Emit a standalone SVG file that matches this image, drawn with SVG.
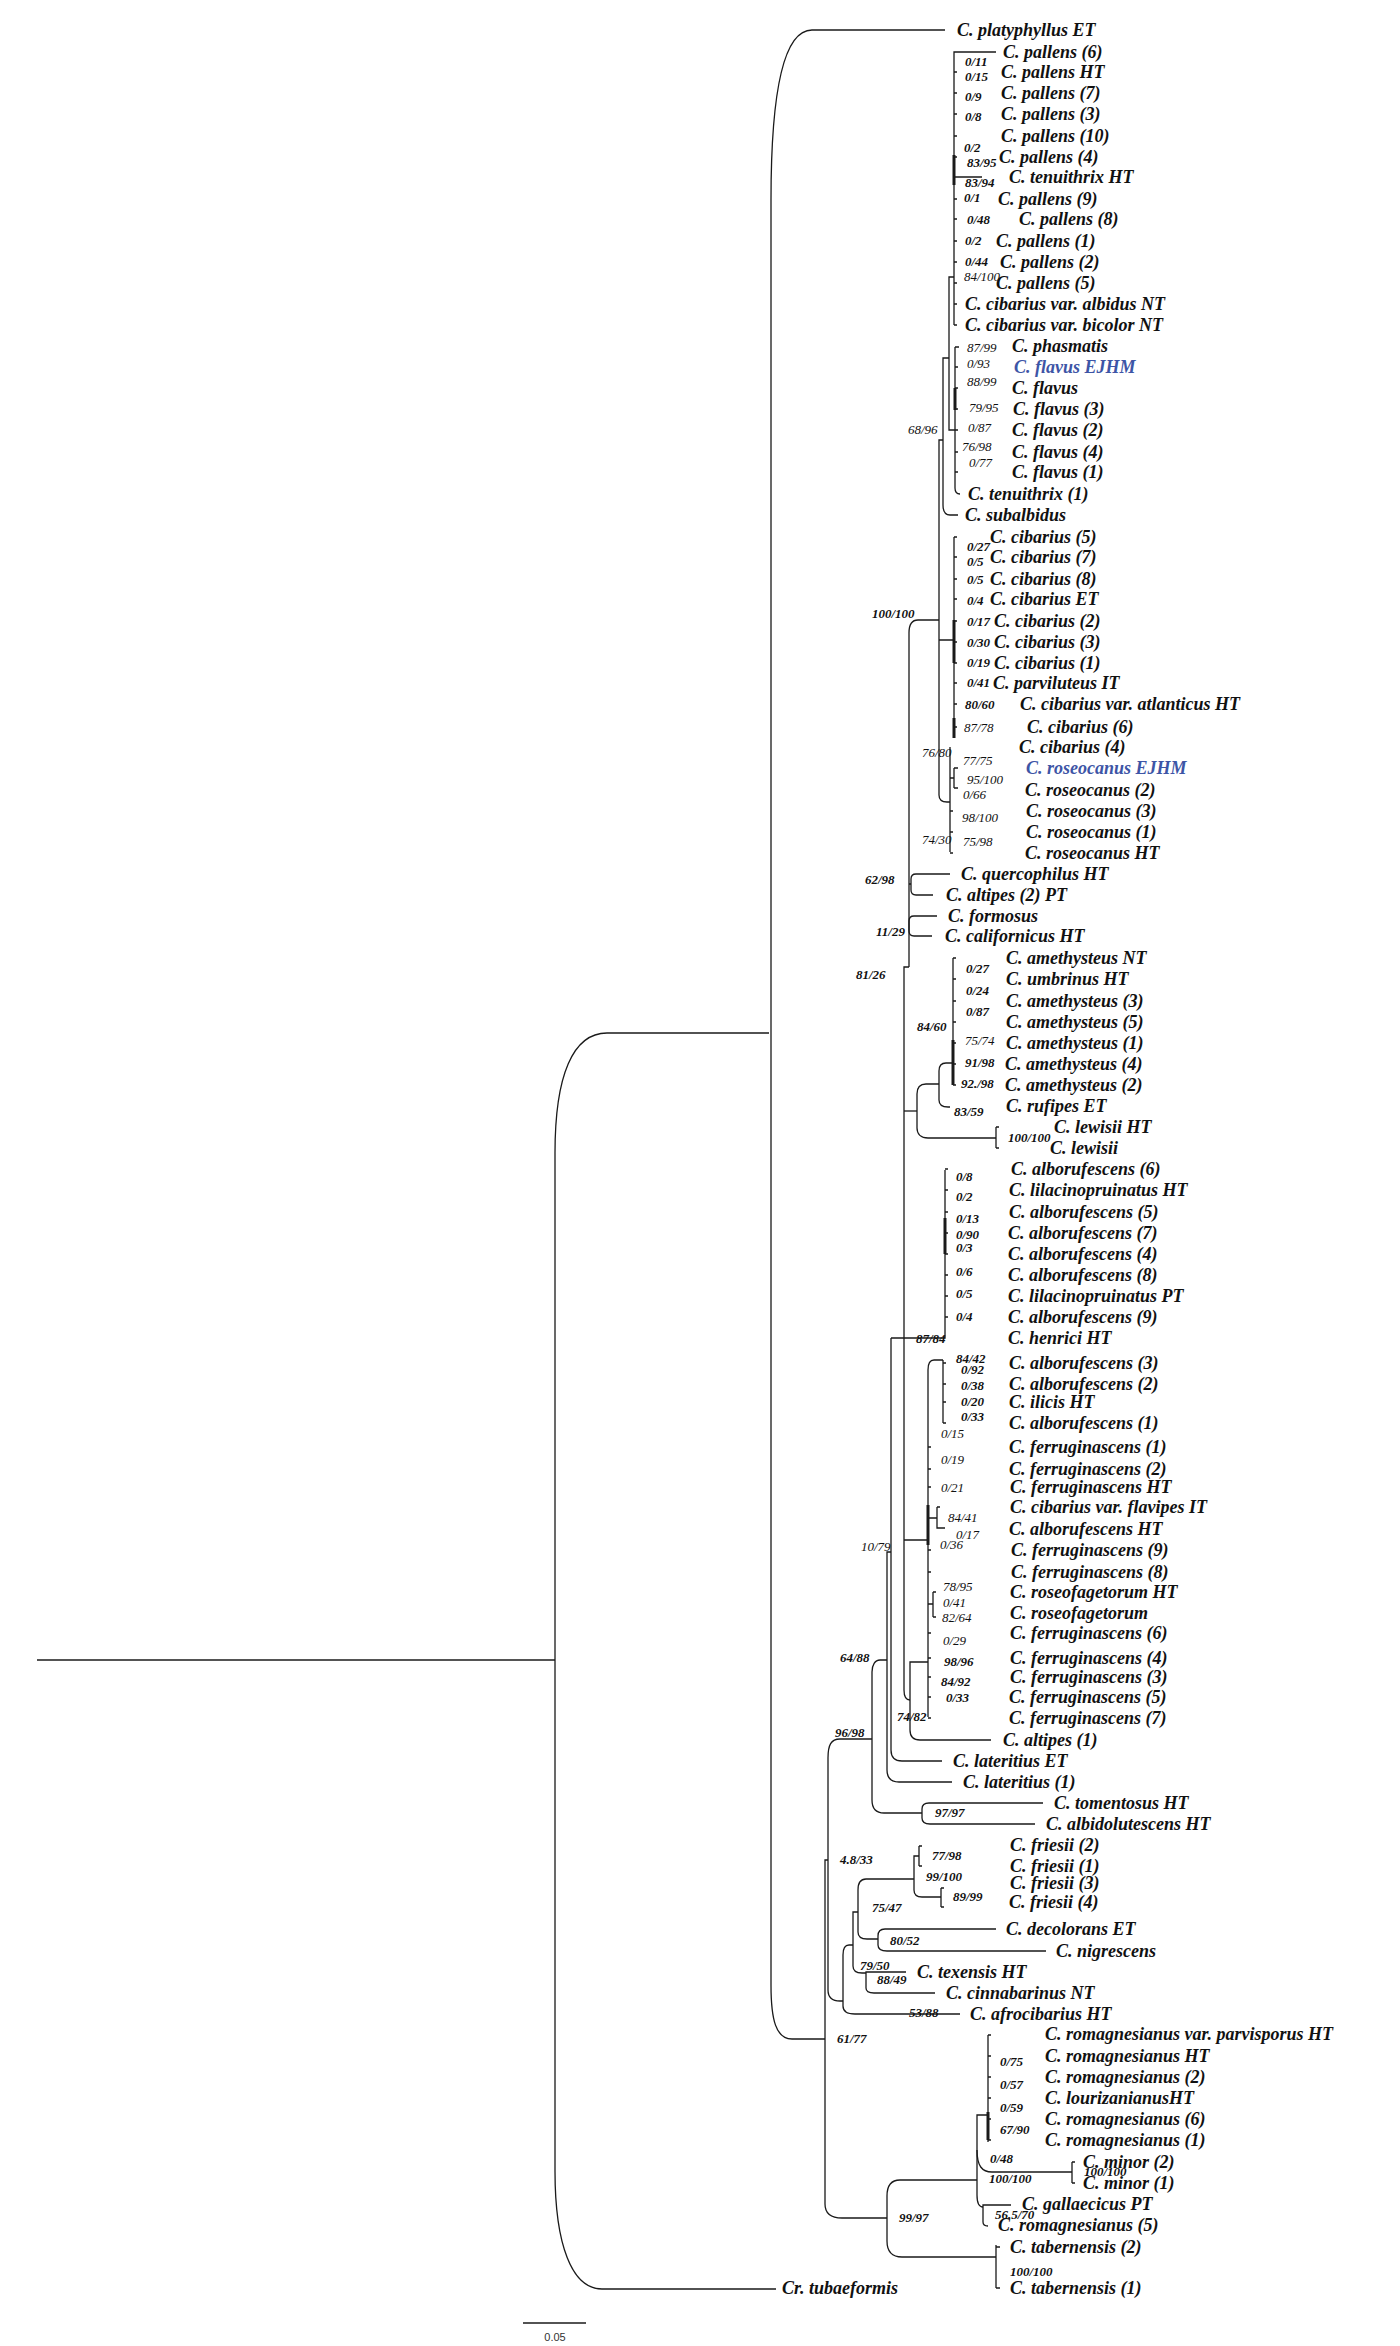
<svg xmlns="http://www.w3.org/2000/svg" width="1400" height="2346" viewBox="0 0 1400 2346">
<style>
.lf{font-family:"Liberation Serif","Times New Roman",serif;font-style:italic;font-weight:bold;font-size:18px;fill:#111}
.bl{fill:#3d55a6}
.s{font-family:"Liberation Serif","Times New Roman",serif;font-style:italic;font-weight:bold;font-size:13px;fill:#111}
.r{font-family:"Liberation Serif","Times New Roman",serif;font-style:italic;font-weight:normal;font-size:13px;fill:#111}
.ln{fill:none;stroke:#1a1a1a;stroke-width:1.3}
.tk{fill:none;stroke:#1a1a1a;stroke-width:1.6}
.th{fill:none;stroke:#1a1a1a;stroke-width:3}
.sc{font-family:"Liberation Sans",Arial,sans-serif;font-size:11px;fill:#333}
</style>
<rect width="1400" height="2346" fill="#fff"/>
<g id="connectors">
<path class="ln" d="M37 1660H555"/>
<path class="ln" d="M769 1033H607C573 1033 555 1075 555 1153V2171C555 2245 572 2289 602 2289H776"/>
<path class="ln" d="M945 30H812C786 30 771 80 771 200V1985C771 2020 776 2039 792 2039H825"/>
<path class="ln" d="M828 1860H825V2204C825 2213 831 2218 842 2218H887"/>
<path class="ln" d="M872 1739H840C831 1739 828 1745 828 1758V1990C828 1997 832 2001 840 2001H843"/>
<path class="ln" d="M853 1945H849C845 1945 843 1949 843 1955V2006C843 2011 847 2014 855 2014H960"/>
<path class="ln" d="M858 1912H853V1966C853 1971 856 1973 862 1973H866"/>
<path class="ln" d="M914 1879H866C861 1879 858 1883 858 1890V1932C858 1937 861 1939 867 1939H878"/>
<path class="ln" d="M996 1929H885C880 1929 878 1932 878 1936V1945C878 1949 881 1951 887 1951H1046"/>
<path class="ln" d="M906 1972H866V1988C866 1991 869 1993 874 1993H935"/>
<path class="ln" d="M919 1856H914V1890C914 1895 917 1897 922 1897H941"/>
<path class="ln" d="M919 1846V1866M941 1888V1907"/>
<path class="ln" d="M977 2180H900C891 2180 887 2186 887 2196V2241C887 2251 891 2257 902 2257H996"/>
<path class="ln" d="M996 2245V2288"/>
<path class="ln" d="M988 2115H977V2195C977 2203 979 2207 983 2207"/>
<path class="ln" d="M1011 2205H983V2222C983 2225 985 2226 988 2226"/>
<path class="ln" d="M977 2150C977 2166 982 2172 992 2172H1072M1072 2162V2183"/>
<path class="ln" d="M988 2035V2142"/>
<path class="th" d="M988 2112V2140"/>
<path class="ln" d="M887 1660H880C875 1660 872 1665 872 1672V1800C872 1808 876 1813 884 1813H922"/>
<path class="ln" d="M1043 1803H929C924 1803 922 1806 922 1809V1818C922 1822 925 1824 930 1824H1035"/>
<path class="ln" d="M891 1552H887V1770C887 1778 891 1782 899 1782H952"/>
<path class="ln" d="M891 1338V1750C891 1757 895 1761 902 1761H942"/>
<path class="ln" d="M909 967H904V1690C904 1696 906 1700 910 1700"/>
<path class="ln" d="M928 1662H910V1730C910 1736 913 1740 920 1740H991"/>
<path class="ln" d="M943 1360H934C930 1360 928 1364 928 1370V1717M904 1540H928"/>
<path class="th" d="M928 1505V1545"/>
<path class="ln" d="M943 1360V1423"/>
<path class="ln" d="M928 1518H937M937 1507V1528H945"/>
<path class="ln" d="M928 1604H933M933 1592V1617"/>
<path class="ln" d="M945 1170V1338H891"/>
<path class="th" d="M945 1218V1254"/>
<path class="ln" d="M904 1111H917"/>
<path class="ln" d="M939 1084H926C920 1084 917 1088 917 1094V1128C917 1134 921 1138 928 1138H996"/>
<path class="ln" d="M953 1063H946C941 1063 939 1066 939 1071V1100C939 1105 942 1107 948 1107H950"/>
<path class="ln" d="M953 958V1085"/>
<path class="th" d="M953 1040V1085"/>
<path class="ln" d="M996 1127V1148"/>
<path class="ln" d="M939 620H918C912 620 909 625 909 633V967"/>
<path class="ln" d="M950 874H916C913 874 911 876 911 879V890C911 893 913 895 916 895H933M909 884H911"/>
<path class="ln" d="M937 916H914C911 916 909 918 909 921V931C909 934 911 936 914 936H932"/>
<path class="ln" d="M943 440H939V795C939 800 942 802 947 802H950"/>
<path class="ln" d="M949 358H943V505C943 511 945 515 950 515H958"/>
<path class="ln" d="M954 277H949V430H955"/>
<path class="ln" d="M996 52H954V325M954 177H982"/>
<path class="th" d="M954 155V185"/>
<path class="ln" d="M955 347H959M955 347V488C955 492 957 494 960 494"/>
<path class="th" d="M955 388V410"/>
<path class="ln" d="M954 537V738M939 640H954"/>
<path class="th" d="M954 620V663M954 718V738"/>
<path class="ln" d="M950 747V852M954 768V788M950 778H954"/>
<path class="tk" d="M954 72h3M954 93h3M954 114h3M954 136h3M954 157h3M954 199h3M954 219h3M954 241h3M954 262h3M954 283h3M954 304h3M954 325h3M955 367h3M955 388h3M955 409h3M955 430h3M955 452h3M955 472h3M954 537h3M954 557h3M954 579h3M954 599h3M954 621h3M954 642h3M954 663h3M954 683h3M954 704h3M954 727h3M954 768h4M954 788h4M950 811h3M950 832h3M950 853h3M953 958h3M953 979h3M953 1001h3M953 1022h3M953 1043h3M953 1064h3M953 1085h3M996 1127h3M996 1148h3M945 1169h3M945 1190h3M945 1212h3M945 1233h3M945 1254h3M945 1275h3M945 1296h3M945 1317h3M943 1363h3M943 1384h3M943 1402h3M943 1423h3M928 1447h3M928 1469h3M928 1487h3M937 1507h3M928 1550h3M928 1572h3M933 1592h3M933 1617h3M928 1633h3M928 1658h3M928 1677h3M928 1697h3M928 1718h3M919 1846h3M919 1866h3M941 1888h3M941 1907h3M988 2035h3M988 2056h3M988 2077h3M988 2098h3M988 2119h3M988 2140h3M1072 2162h3M1072 2183h3M996 2247h4M996 2288h4"/>
<path class="ln" stroke="#555" d="M523 2323H586"/>
</g>
<g id="leaves">
<g id="n1"><text class="lf" x="957" y="36">C. platyphyllus ET</text></g>
<g id="n2"><text class="lf" x="1003" y="58">C. pallens (6)</text></g>
<g id="n3"><text class="lf" x="1001" y="78">C. pallens HT</text></g>
<g id="n4"><text class="lf" x="1001" y="99">C. pallens (7)</text></g>
<g id="n5"><text class="lf" x="1001" y="120">C. pallens (3)</text></g>
<g id="n6"><text class="lf" x="1001" y="142">C. pallens (10)</text></g>
<g id="n7"><text class="lf" x="999" y="163">C. pallens (4)</text></g>
<g id="n8"><text class="lf" x="1009" y="183">C. tenuithrix HT</text></g>
<g id="n9"><text class="lf" x="998" y="205">C. pallens (9)</text></g>
<g id="n10"><text class="lf" x="1019" y="225">C. pallens (8)</text></g>
<g id="n11"><text class="lf" x="996" y="247">C. pallens (1)</text></g>
<g id="n12"><text class="lf" x="1000" y="268">C. pallens (2)</text></g>
<g id="n13"><text class="lf" x="996" y="289">C. pallens (5)</text></g>
<g id="n14"><text class="lf" x="965" y="310">C. cibarius var. albidus NT</text></g>
<g id="n15"><text class="lf" x="965" y="331">C. cibarius var. bicolor NT</text></g>
<g id="n16"><text class="lf" x="1012" y="352">C. phasmatis</text></g>
<g id="n17"><text class="lf bl" x="1014" y="373">C. flavus EJHM</text></g>
<g id="n18"><text class="lf" x="1012" y="394">C. flavus</text></g>
<g id="n19"><text class="lf" x="1013" y="415">C. flavus (3)</text></g>
<g id="n20"><text class="lf" x="1012" y="436">C. flavus (2)</text></g>
<g id="n21"><text class="lf" x="1012" y="458">C. flavus (4)</text></g>
<g id="n22"><text class="lf" x="1012" y="478">C. flavus (1)</text></g>
<g id="n23"><text class="lf" x="968" y="500">C. tenuithrix (1)</text></g>
<g id="n24"><text class="lf" x="965" y="521">C. subalbidus</text></g>
<g id="n25"><text class="lf" x="990" y="543">C. cibarius (5)</text></g>
<g id="n26"><text class="lf" x="990" y="563">C. cibarius (7)</text></g>
<g id="n27"><text class="lf" x="990" y="585">C. cibarius (8)</text></g>
<g id="n28"><text class="lf" x="990" y="605">C. cibarius ET</text></g>
<g id="n29"><text class="lf" x="994" y="627">C. cibarius (2)</text></g>
<g id="n30"><text class="lf" x="994" y="648">C. cibarius (3)</text></g>
<g id="n31"><text class="lf" x="994" y="669">C. cibarius (1)</text></g>
<g id="n32"><text class="lf" x="993" y="689">C. parviluteus IT</text></g>
<g id="n33"><text class="lf" x="1020" y="710">C. cibarius var. atlanticus HT</text></g>
<g id="n34"><text class="lf" x="1027" y="733">C. cibarius (6)</text></g>
<g id="n35"><text class="lf" x="1019" y="753">C. cibarius (4)</text></g>
<g id="n36"><text class="lf bl" x="1026" y="774">C. roseocanus EJHM</text></g>
<g id="n37"><text class="lf" x="1025" y="796">C. roseocanus (2)</text></g>
<g id="n38"><text class="lf" x="1026" y="817">C. roseocanus (3)</text></g>
<g id="n39"><text class="lf" x="1026" y="838">C. roseocanus (1)</text></g>
<g id="n40"><text class="lf" x="1025" y="859">C. roseocanus HT</text></g>
<g id="n41"><text class="lf" x="961" y="880">C. quercophilus HT</text></g>
<g id="n42"><text class="lf" x="946" y="901">C. altipes (2) PT</text></g>
<g id="n43"><text class="lf" x="948" y="922">C. formosus</text></g>
<g id="n44"><text class="lf" x="945" y="942">C. californicus HT</text></g>
<g id="n45"><text class="lf" x="1006" y="964">C. amethysteus NT</text></g>
<g id="n46"><text class="lf" x="1006" y="985">C. umbrinus HT</text></g>
<g id="n47"><text class="lf" x="1006" y="1007">C. amethysteus (3)</text></g>
<g id="n48"><text class="lf" x="1006" y="1028">C. amethysteus (5)</text></g>
<g id="n49"><text class="lf" x="1006" y="1049">C. amethysteus (1)</text></g>
<g id="n50"><text class="lf" x="1005" y="1070">C. amethysteus (4)</text></g>
<g id="n51"><text class="lf" x="1005" y="1091">C. amethysteus (2)</text></g>
<g id="n52"><text class="lf" x="1006" y="1112">C. rufipes ET</text></g>
<g id="n53"><text class="lf" x="1054" y="1133">C. lewisii HT</text></g>
<g id="n54"><text class="lf" x="1050" y="1154">C. lewisii</text></g>
<g id="n55"><text class="lf" x="1011" y="1175">C. alborufescens (6)</text></g>
<g id="n56"><text class="lf" x="1009" y="1196">C. lilacinopruinatus HT</text></g>
<g id="n57"><text class="lf" x="1009" y="1218">C. alborufescens (5)</text></g>
<g id="n58"><text class="lf" x="1008" y="1239">C. alborufescens (7)</text></g>
<g id="n59"><text class="lf" x="1008" y="1260">C. alborufescens (4)</text></g>
<g id="n60"><text class="lf" x="1008" y="1281">C. alborufescens (8)</text></g>
<g id="n61"><text class="lf" x="1008" y="1302">C. lilacinopruinatus PT</text></g>
<g id="n62"><text class="lf" x="1008" y="1323">C. alborufescens (9)</text></g>
<g id="n63"><text class="lf" x="1008" y="1344">C. henrici HT</text></g>
<g id="n64"><text class="lf" x="1009" y="1369">C. alborufescens (3)</text></g>
<g id="n65"><text class="lf" x="1009" y="1390">C. alborufescens (2)</text></g>
<g id="n66"><text class="lf" x="1009" y="1408">C. ilicis HT</text></g>
<g id="n67"><text class="lf" x="1009" y="1429">C. alborufescens (1)</text></g>
<g id="n68"><text class="lf" x="1009" y="1453">C. ferruginascens (1)</text></g>
<g id="n69"><text class="lf" x="1009" y="1475">C. ferruginascens (2)</text></g>
<g id="n70"><text class="lf" x="1010" y="1493">C. ferruginascens HT</text></g>
<g id="n71"><text class="lf" x="1010" y="1513">C. cibarius var. flavipes IT</text></g>
<g id="n72"><text class="lf" x="1009" y="1535">C. alborufescens HT</text></g>
<g id="n73"><text class="lf" x="1011" y="1556">C. ferruginascens (9)</text></g>
<g id="n74"><text class="lf" x="1011" y="1578">C. ferruginascens (8)</text></g>
<g id="n75"><text class="lf" x="1010" y="1598">C. roseofagetorum HT</text></g>
<g id="n76"><text class="lf" x="1010" y="1619">C. roseofagetorum</text></g>
<g id="n77"><text class="lf" x="1010" y="1639">C. ferruginascens (6)</text></g>
<g id="n78"><text class="lf" x="1010" y="1664">C. ferruginascens (4)</text></g>
<g id="n79"><text class="lf" x="1010" y="1683">C. ferruginascens (3)</text></g>
<g id="n80"><text class="lf" x="1009" y="1703">C. ferruginascens (5)</text></g>
<g id="n81"><text class="lf" x="1009" y="1724">C. ferruginascens (7)</text></g>
<g id="n82"><text class="lf" x="1003" y="1746">C. altipes (1)</text></g>
<g id="n83"><text class="lf" x="953" y="1767">C. lateritius ET</text></g>
<g id="n84"><text class="lf" x="963" y="1788">C. lateritius (1)</text></g>
<g id="n85"><text class="lf" x="1054" y="1809">C. tomentosus HT</text></g>
<g id="n86"><text class="lf" x="1046" y="1830">C. albidolutescens HT</text></g>
<g id="n87"><text class="lf" x="1010" y="1851">C. friesii (2)</text></g>
<g id="n88"><text class="lf" x="1010" y="1872">C. friesii (1)</text></g>
<g id="n89"><text class="lf" x="1010" y="1889">C. friesii (3)</text></g>
<g id="n90"><text class="lf" x="1009" y="1908">C. friesii (4)</text></g>
<g id="n91"><text class="lf" x="1006" y="1935">C. decolorans ET</text></g>
<g id="n92"><text class="lf" x="1056" y="1957">C. nigrescens</text></g>
<g id="n93"><text class="lf" x="917" y="1978">C. texensis HT</text></g>
<g id="n94"><text class="lf" x="946" y="1999">C. cinnabarinus NT</text></g>
<g id="n95"><text class="lf" x="970" y="2020">C. afrocibarius HT</text></g>
<g id="n96"><text class="lf" x="1045" y="2040">C. romagnesianus var. parvisporus HT</text></g>
<g id="n97"><text class="lf" x="1045" y="2062">C. romagnesianus HT</text></g>
<g id="n98"><text class="lf" x="1045" y="2083">C. romagnesianus (2)</text></g>
<g id="n99"><text class="lf" x="1045" y="2104">C. lourizanianusHT</text></g>
<g id="n100"><text class="lf" x="1045" y="2125">C. romagnesianus (6)</text></g>
<g id="n101"><text class="lf" x="1045" y="2146">C. romagnesianus (1)</text></g>
<g id="n102"><text class="lf" x="1083" y="2168">C. minor (2)</text></g>
<g id="n103"><text class="lf" x="1083" y="2189">C. minor (1)</text></g>
<g id="n104"><text class="lf" x="1022" y="2210">C. gallaecicus PT</text></g>
<g id="n105"><text class="lf" x="998" y="2231">C. romagnesianus (5)</text></g>
<g id="n106"><text class="lf" x="1010" y="2253">C. tabernensis (2)</text></g>
<g id="n107"><text class="lf" x="1010" y="2294">C. tabernensis (1)</text></g>
<g id="n108"><text class="lf" x="782" y="2294">Cr. tubaeformis</text></g>
</g>
<g id="support-values">
<text class="s" x="965" y="66">0/11</text>
<text class="s" x="965" y="81">0/15</text>
<text class="s" x="965" y="101">0/9</text>
<text class="s" x="965" y="121">0/8</text>
<text class="s" x="964" y="152">0/2</text>
<text class="s" x="967" y="167">83/95</text>
<text class="s" x="965" y="187">83/94</text>
<text class="s" x="964" y="202">0/1</text>
<text class="s" x="967" y="224">0/48</text>
<text class="s" x="965" y="245">0/2</text>
<text class="s" x="965" y="266">0/44</text>
<text class="r" x="964" y="281">84/100</text>
<text class="r" x="967" y="352">87/99</text>
<text class="r" x="967" y="368">0/93</text>
<text class="r" x="967" y="386">88/99</text>
<text class="r" x="969" y="412">79/95</text>
<text class="r" x="968" y="432">0/87</text>
<text class="r" x="962" y="451">76/98</text>
<text class="r" x="969" y="467">0/77</text>
<text class="r" x="908" y="434">68/96</text>
<text class="s" x="967" y="551">0/27</text>
<text class="s" x="967" y="566">0/5</text>
<text class="s" x="967" y="584">0/5</text>
<text class="s" x="967" y="605">0/4</text>
<text class="s" x="967" y="626">0/17</text>
<text class="s" x="967" y="647">0/30</text>
<text class="s" x="967" y="667">0/19</text>
<text class="s" x="967" y="687">0/41</text>
<text class="s" x="965" y="709">80/60</text>
<text class="s" x="872" y="618">100/100</text>
<text class="r" x="964" y="732">87/78</text>
<text class="r" x="922" y="757">76/80</text>
<text class="r" x="963" y="765">77/75</text>
<text class="r" x="967" y="784">95/100</text>
<text class="r" x="963" y="799">0/66</text>
<text class="r" x="962" y="822">98/100</text>
<text class="r" x="922" y="844">74/30</text>
<text class="r" x="963" y="846">75/98</text>
<text class="s" x="865" y="884">62/98</text>
<text class="s" x="876" y="936">11/29</text>
<text class="s" x="966" y="973">0/27</text>
<text class="s" x="966" y="995">0/24</text>
<text class="s" x="966" y="1016">0/87</text>
<text class="s" x="917" y="1031">84/60</text>
<text class="r" x="965" y="1045">75/74</text>
<text class="s" x="965" y="1067">91/98</text>
<text class="s" x="961" y="1088">92./98</text>
<text class="s" x="954" y="1116">83/59</text>
<text class="s" x="1008" y="1142">100/100</text>
<text class="s" x="856" y="979">81/26</text>
<text class="s" x="956" y="1181">0/8</text>
<text class="s" x="956" y="1201">0/2</text>
<text class="s" x="956" y="1223">0/13</text>
<text class="s" x="956" y="1239">0/90</text>
<text class="s" x="956" y="1252">0/3</text>
<text class="s" x="956" y="1276">0/6</text>
<text class="s" x="956" y="1298">0/5</text>
<text class="s" x="956" y="1321">0/4</text>
<text class="s" x="916" y="1343">87/84</text>
<text class="s" x="956" y="1363">84/42</text>
<text class="s" x="961" y="1374">0/92</text>
<text class="s" x="961" y="1390">0/38</text>
<text class="s" x="961" y="1406">0/20</text>
<text class="s" x="961" y="1421">0/33</text>
<text class="r" x="941" y="1438">0/15</text>
<text class="r" x="941" y="1464">0/19</text>
<text class="r" x="941" y="1492">0/21</text>
<text class="r" x="948" y="1522">84/41</text>
<text class="r" x="956" y="1539">0/17</text>
<text class="r" x="940" y="1549">0/36</text>
<text class="r" x="861" y="1551">10/79</text>
<text class="r" x="943" y="1591">78/95</text>
<text class="r" x="943" y="1607">0/41</text>
<text class="r" x="942" y="1622">82/64</text>
<text class="r" x="943" y="1645">0/29</text>
<text class="s" x="840" y="1662">64/88</text>
<text class="s" x="944" y="1666">98/96</text>
<text class="s" x="941" y="1686">84/92</text>
<text class="s" x="946" y="1702">0/33</text>
<text class="s" x="897" y="1721">74/82</text>
<text class="s" x="835" y="1737">96/98</text>
<text class="s" x="935" y="1817">97/97</text>
<text class="s" x="932" y="1860">77/98</text>
<text class="s" x="840" y="1864">4.8/33</text>
<text class="s" x="926" y="1881">99/100</text>
<text class="s" x="953" y="1901">89/99</text>
<text class="s" x="872" y="1912">75/47</text>
<text class="s" x="890" y="1945">80/52</text>
<text class="s" x="860" y="1970">79/50</text>
<text class="s" x="877" y="1984">88/49</text>
<text class="s" x="909" y="2017">53/88</text>
<text class="s" x="837" y="2043">61/77</text>
<text class="s" x="1000" y="2066">0/75</text>
<text class="s" x="1000" y="2089">0/57</text>
<text class="s" x="1000" y="2112">0/59</text>
<text class="s" x="1000" y="2134">67/90</text>
<text class="s" x="990" y="2163">0/48</text>
<text class="s" x="989" y="2183">100/100</text>
<text class="s" x="1084" y="2176">100/100</text>
<text class="s" x="995" y="2219">56.5/70</text>
<text class="s" x="899" y="2222">99/97</text>
<text class="s" x="1010" y="2276">100/100</text>
</g>
<g id="scale-bar">
<text class="sc" x="555" y="2341" text-anchor="middle">0.05</text>
</g>
</svg>
